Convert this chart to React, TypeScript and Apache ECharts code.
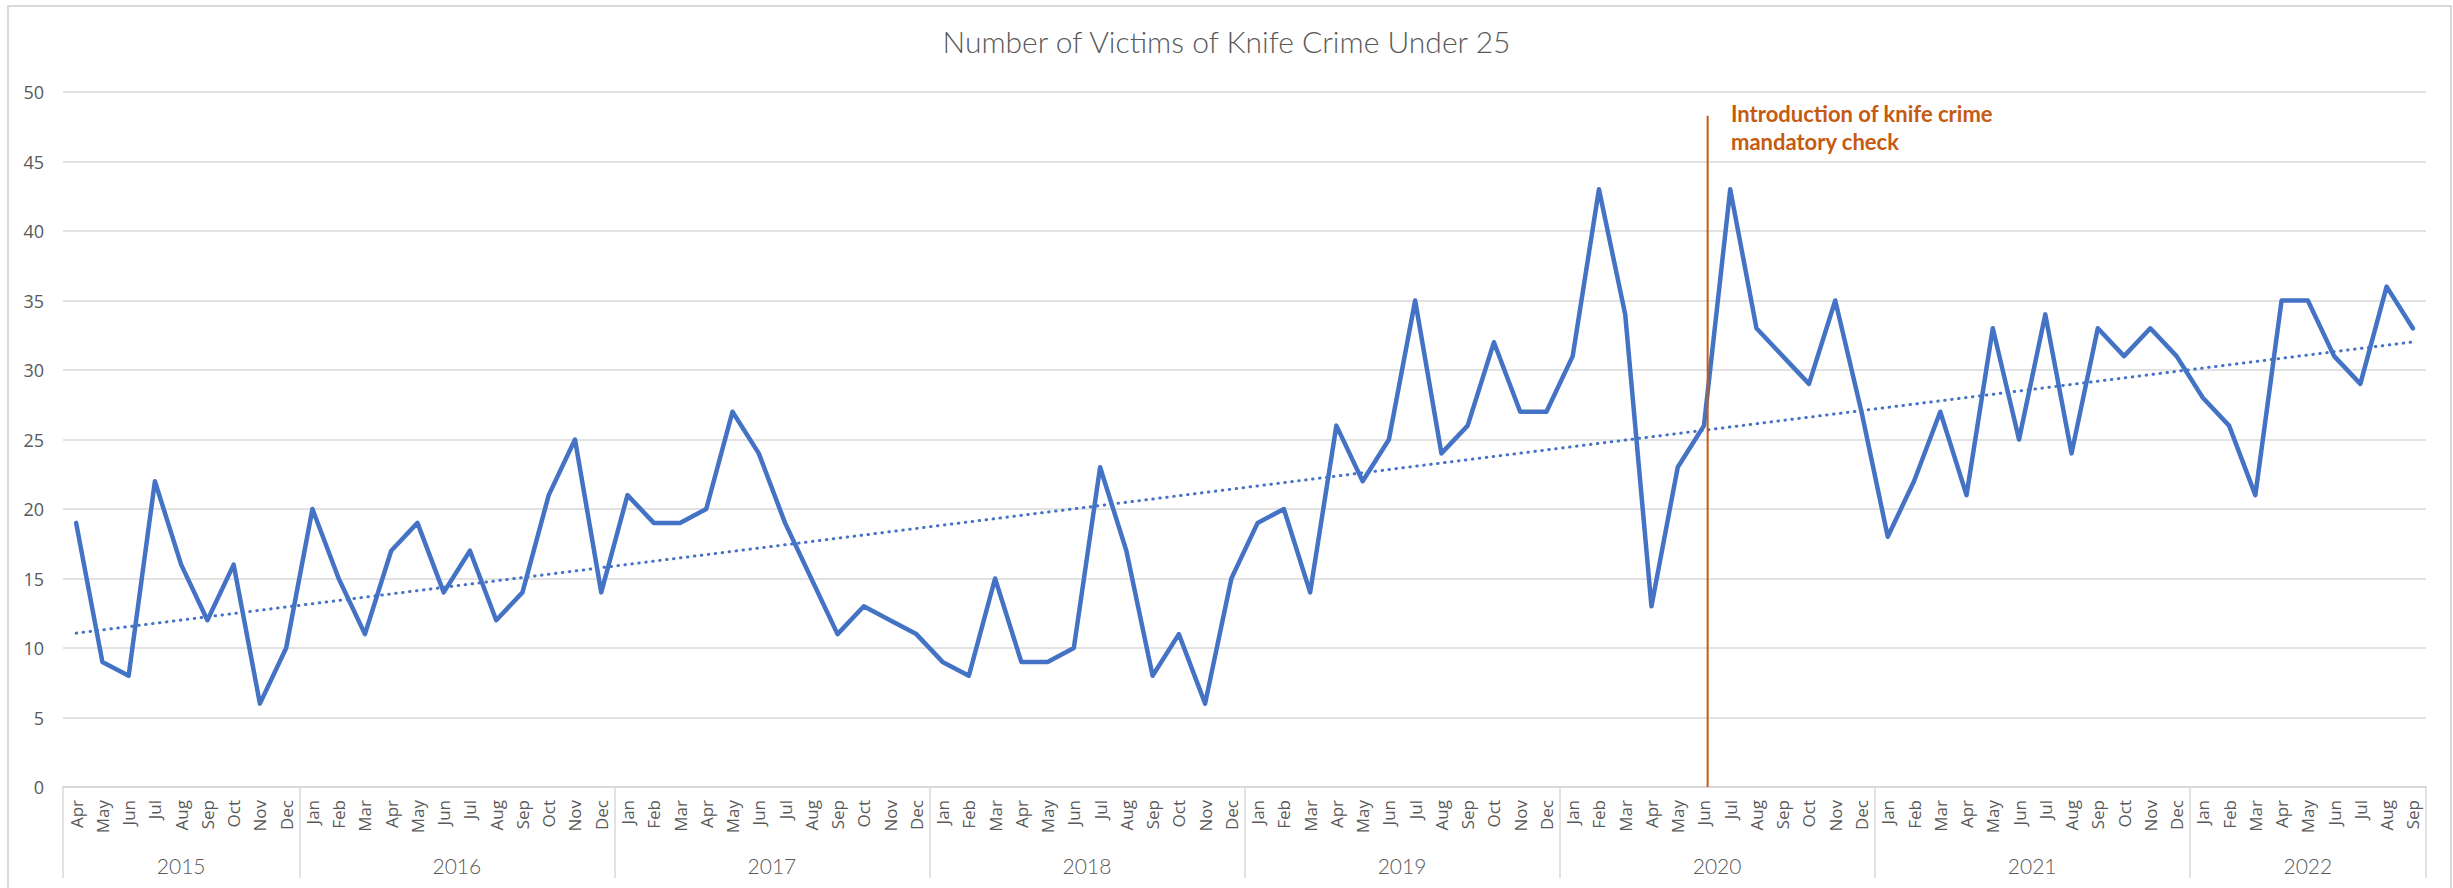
import React, { useEffect, useRef } from "react";
import * as echarts from "echarts";

const titleText = "Number of Victims of Knife Crime Under 25";
const monthNames = ["Jan", "Feb", "Mar", "Apr", "May", "Jun", "Jul", "Aug", "Sep", "Oct", "Nov", "Dec"];
const years = ["2015", "2016", "2017", "2018", "2019", "2020", "2021", "2022"];
const firstMonthOfYear = [3, 0, 0, 0, 0, 0, 0, 0];

const victims2015 = [19, 9, 8, 22, 16, 12, 16, 6, 10];
const victims2016 = [20, 15, 11, 17, 19, 14, 17, 12, 14, 21, 25, 14];
const victims2017 = [21, 19, 19, 20, 27, 24, 19, 15, 11, 13, 12, 11];
const victims2018 = [9, 8, 15, 9, 9, 10, 23, 17, 8, 11, 6, 15];
const victims2019 = [19, 20, 14, 26, 22, 25, 35, 24, 26, 32, 27, 27];
const victims2020 = [31, 43, 34, 13, 23, 26, 43, 33, 31, 29, 35, 27];
const victims2021 = [18, 22, 27, 21, 33, 25, 34, 24, 33, 31, 33, 31];
const victims2022 = [28, 26, 21, 35, 35, 31, 29, 36, 33];
const victimsByYear = [victims2015, victims2016, victims2017, victims2018, victims2019, victims2020, victims2021, victims2022];

const annotationLines = ["Introduction of knife crime", "mandatory check"];
const interventionPosition = 62.64; // in month bands from the start (Jun 2020)
const interventionTop = 48.3;

const yMin = 0;
const yMax = 50;
const yInterval = 5;

// derived
const categories: string[] = [];
const values: number[] = [];
victimsByYear.forEach((arr, i) => {
  arr.forEach((v, k) => {
    categories.push(monthNames[firstMonthOfYear[i] + k]);
    values.push(v);
  });
});
const yearBoundaries: number[] = [0];
const yearCenters: number[] = [];
{
  let acc = 0;
  victimsByYear.forEach((arr) => {
    yearCenters.push(acc + arr.length / 2);
    acc += arr.length;
    yearBoundaries.push(acc);
  });
}
const n = values.length;
const trend: number[] = (() => {
  let sx = 0, sy = 0, sxx = 0, sxy = 0;
  values.forEach((v, i) => {
    sx += i; sy += v; sxx += i * i; sxy += i * v;
  });
  const slope = (n * sxy - sx * sy) / (n * sxx - sx * sx);
  const icpt = (sy - slope * sx) / n;
  return values.map((_, i) => +(icpt + slope * i).toFixed(3));
})();

export default function App() {
  const ref = useRef<HTMLDivElement>(null);
  useEffect(() => {
    if (!ref.current) return;
    const chart = echarts.init(ref.current, undefined, { renderer: "svg" });
    const gray = "#D9D9D9";
    const textGray = "#595959";
    chart.setOption({
      animation: false,
      backgroundColor: "#ffffff",
      title: {
        text: titleText,
        left: "center",
        top: 26,
        padding: 0,
        textStyle: { fontFamily: "Lato", fontWeight: 300, fontSize: 30, color: textGray },
      },
      grid: { left: 63, right: 27, top: 92, bottom: 101 },
      xAxis: [
        {
          type: "category",
          data: categories,
          boundaryGap: true,
          axisLine: { show: true, lineStyle: { color: gray, width: 2 } },
          axisTick: { show: false },
          axisLabel: {
            interval: 0,
            rotate: 90,
            margin: 13,
            fontFamily: "Open Sans",
            fontSize: 17,
            color: textGray,
          },
          splitLine: { show: false },
        },
        {
          type: "value",
          position: "bottom",
          min: 0,
          max: n,
          axisLine: { show: false },
          splitLine: { show: false },
          axisTick: {
            show: true,
            customValues: yearBoundaries,
            length: 91,
            lineStyle: { color: gray, width: 1.5 },
          },
          axisLabel: {
            customValues: yearCenters,
            formatter: (v: number) => {
              const idx = yearCenters.findIndex((c) => Math.abs(c - v) < 1e-6);
              return idx >= 0 ? years[idx] : "";
            },
            margin: 68,
            fontFamily: "Lato",
            fontWeight: 300,
            fontSize: 21,
            color: textGray,
          },
        },
      ],
      yAxis: {
        type: "value",
        min: yMin,
        max: yMax,
        interval: yInterval,
        axisLine: { show: false },
        axisTick: { show: false },
        axisLabel: { margin: 19, fontFamily: "Open Sans", fontSize: 18, color: textGray },
        splitLine: { lineStyle: { color: gray, width: 1.5 } },
      },
      series: [
        {
          type: "line",
          name: "Victims",
          data: values,
          showSymbol: false,
          symbol: "none",
          z: 3,
          lineStyle: { color: "#4472C4", width: 4.5, join: "round", cap: "round" },
        },
        {
          type: "line",
          name: "Trend",
          data: trend,
          showSymbol: false,
          symbol: "none",
          z: 4,
          lineStyle: { color: "#4472C4", width: 3, type: [0.5, 6.5], cap: "round" },
        },
        {
          type: "line",
          name: "Intervention",
          xAxisIndex: 1,
          data: [
            [interventionPosition, yMin],
            [interventionPosition, interventionTop],
          ],
          showSymbol: false,
          symbol: "none",
          z: 5,
          lineStyle: { color: "#C55A11", width: 2 },
        },
      ],
      graphic: [
        {
          type: "rect",
          silent: true,
          shape: { x: 8, y: 6, width: 2443, height: 900 },
          style: { fill: "none", stroke: gray, lineWidth: 2 },
        },
        {
          type: "text",
          silent: true,
          left: 1731,
          top: 99,
          style: {
            text: annotationLines.join("\n"),
            fontFamily: "Lato",
            fontWeight: "bold",
            fontSize: 22,
            lineHeight: 28,
            fill: "#C55A11",
          },
        },
      ],
    });
    return () => chart.dispose();
  }, []);
  return <div ref={ref} style={{ position: "fixed", left: 0, top: 0, width: 2453, height: 888 }} />;
}
